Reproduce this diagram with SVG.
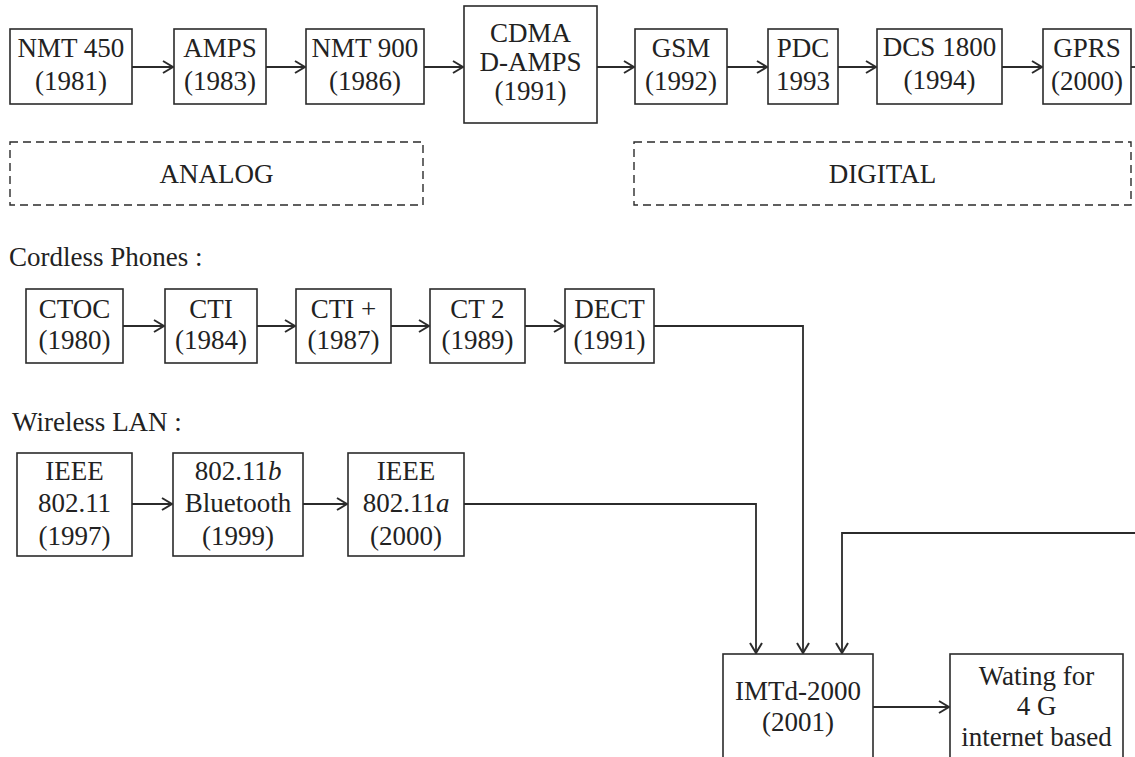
<svg xmlns="http://www.w3.org/2000/svg" width="1135" height="757" viewBox="0 0 1135 757">
  <style>
    .box { fill: #ffffff; stroke: #2b2b2b; stroke-width: 1.6; }
    .group { fill: none; stroke: #2b2b2b; stroke-width: 1.4; stroke-dasharray: 8 5; }
    text { font-family: 'Liberation Serif', 'Tinos', 'DejaVu Serif', serif; font-size: 27px; fill: #222222; }
    .t { text-anchor: middle; }
    .link { fill: none; stroke: #2b2b2b; stroke-width: 1.8; }
    .arr { marker-end: url(#head); }
  </style>
  <defs>
    <marker id="head" markerUnits="userSpaceOnUse" viewBox="0 0 12 14" refX="11" refY="7" markerWidth="12" markerHeight="14" orient="auto">
      <path d="M1,1 L11,7 L1,13" fill="none" stroke="#2b2b2b" stroke-width="2"/>
    </marker>
  </defs>

  <!-- cellular generations -->
  <g id="nmt450"><rect class="box" x="10" y="29" width="122" height="75"/><text class="t" x="71" y="57">NMT 450</text><text class="t" x="71" y="90">(1981)</text></g>
  <g id="amps"><rect class="box" x="174" y="29" width="92" height="75"/><text class="t" x="220" y="57">AMPS</text><text class="t" x="220" y="90">(1983)</text></g>
  <g id="nmt900"><rect class="box" x="306" y="29" width="118" height="75"/><text class="t" x="365" y="57">NMT 900</text><text class="t" x="365" y="90">(1986)</text></g>
  <g id="cdma"><rect class="box" x="464" y="6" width="133" height="117"/><text class="t" x="530.5" y="42">CDMA</text><text class="t" x="530.5" y="71">D-AMPS</text><text class="t" x="530.5" y="100">(1991)</text></g>
  <g id="gsm"><rect class="box" x="635" y="29" width="92" height="75"/><text class="t" x="681" y="57">GSM</text><text class="t" x="681" y="90">(1992)</text></g>
  <g id="pdc"><rect class="box" x="768" y="29" width="70" height="75"/><text class="t" x="803" y="57">PDC</text><text class="t" x="803" y="90">1993</text></g>
  <g id="dcs1800"><rect class="box" x="877" y="29" width="125" height="75"/><text class="t" x="939.5" y="56">DCS 1800</text><text class="t" x="939.5" y="89">(1994)</text></g>
  <g id="gprs"><rect class="box" x="1043" y="29" width="88" height="75"/><text class="t" x="1087" y="57">GPRS</text><text class="t" x="1087" y="90">(2000)</text></g>

  <!-- era groupings -->
  <g id="analog"><rect class="group" x="10" y="142" width="413" height="63"/><text class="t" x="216.5" y="183">ANALOG</text></g>
  <g id="digital"><rect class="group" x="634" y="142" width="497" height="63"/><text class="t" x="882.5" y="183">DIGITAL</text></g>

  <!-- cordless phones -->
  <text id="cordless-label" x="9" y="266">Cordless Phones :</text>
  <g id="ctoc"><rect class="box" x="26" y="289" width="97" height="74"/><text class="t" x="74.5" y="318">CTOC</text><text class="t" x="74.5" y="349">(1980)</text></g>
  <g id="cti"><rect class="box" x="165" y="289" width="92" height="74"/><text class="t" x="211" y="318">CTI</text><text class="t" x="211" y="349">(1984)</text></g>
  <g id="ctiplus"><rect class="box" x="296" y="289" width="95" height="74"/><text class="t" x="343.5" y="318">CTI +</text><text class="t" x="343.5" y="349">(1987)</text></g>
  <g id="ct2"><rect class="box" x="430" y="289" width="95" height="74"/><text class="t" x="477.5" y="318">CT 2</text><text class="t" x="477.5" y="349">(1989)</text></g>
  <g id="dect"><rect class="box" x="565" y="289" width="89" height="74"/><text class="t" x="609.5" y="318">DECT</text><text class="t" x="609.5" y="349">(1991)</text></g>

  <!-- wireless LAN -->
  <text id="wlan-label" x="12" y="431">Wireless LAN :</text>
  <g id="ieee80211"><rect class="box" x="17" y="453" width="115" height="103"/><text class="t" x="74.5" y="480">IEEE</text><text class="t" x="74.5" y="512">802.11</text><text class="t" x="74.5" y="545">(1997)</text></g>
  <g id="bluetooth"><rect class="box" x="173" y="453" width="130" height="103"/><text class="t" x="238" y="480">802.11<tspan font-style="italic">b</tspan></text><text class="t" x="238" y="512">Bluetooth</text><text class="t" x="238" y="545">(1999)</text></g>
  <g id="ieee80211a"><rect class="box" x="348" y="453" width="116" height="103"/><text class="t" x="406" y="480">IEEE</text><text class="t" x="406" y="512">802.11<tspan font-style="italic">a</tspan></text><text class="t" x="406" y="545">(2000)</text></g>

  <!-- third generation and beyond -->
  <g id="imt2000"><rect class="box" x="723" y="654" width="150" height="120"/><text class="t" x="798" y="700">IMTd-2000</text><text class="t" x="798" y="731">(2001)</text></g>
  <g id="waiting4g"><rect class="box" x="950" y="654" width="173" height="120"/><text class="t" x="1036.5" y="685">Wating for</text><text class="t" x="1036.5" y="715">4 G</text><text class="t" x="1036.5" y="746">internet based</text></g>

  <g id="connectors">
    <line class="link arr" x1="132" y1="67" x2="173" y2="67"/>
    <line class="link arr" x1="266" y1="67" x2="305" y2="67"/>
    <line class="link arr" x1="424" y1="67" x2="463" y2="67"/>
    <line class="link arr" x1="597" y1="67" x2="634" y2="67"/>
    <line class="link arr" x1="727" y1="67" x2="767" y2="67"/>
    <line class="link arr" x1="838" y1="67" x2="876" y2="67"/>
    <line class="link arr" x1="1002" y1="67" x2="1042" y2="67"/>
    <line class="link" x1="1131" y1="67" x2="1135" y2="67"/>

    <line class="link arr" x1="123" y1="326" x2="164" y2="326"/>
    <line class="link arr" x1="257" y1="326" x2="295" y2="326"/>
    <line class="link arr" x1="391" y1="326" x2="429" y2="326"/>
    <line class="link arr" x1="525" y1="326" x2="564" y2="326"/>
    <polyline class="link arr" points="654,326 803,326 803,653"/>

    <line class="link arr" x1="132" y1="504" x2="172" y2="504"/>
    <line class="link arr" x1="303" y1="504" x2="347" y2="504"/>
    <polyline class="link arr" points="464,504 756,504 756,653"/>

    <polyline class="link arr" points="1135,533 842,533 842,653"/>

    <line class="link arr" x1="873" y1="707" x2="949" y2="707"/>
  </g>
</svg>
